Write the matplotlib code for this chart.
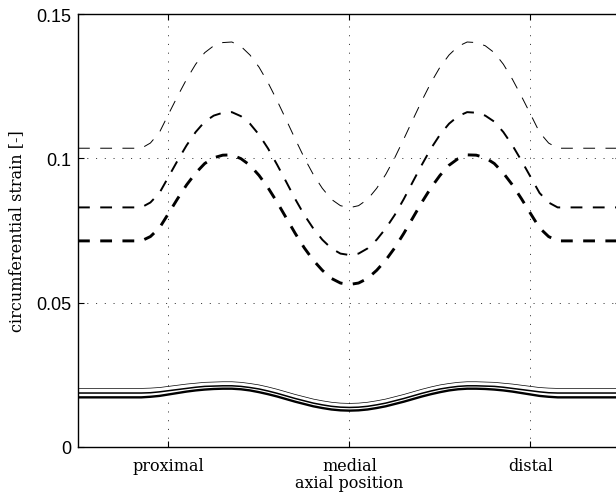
import matplotlib
matplotlib.use("Agg")
import matplotlib.pyplot as plt

plt.rcParams['lines.scale_dashes'] = False

x = [0.50, 0.85, 0.90, 0.95, 1.00, 1.05, 1.10, 1.15, 1.20, 1.25, 1.30, 1.35, 1.40, 1.45,
     1.50, 1.55, 1.60, 1.65, 1.70, 1.75, 1.80, 1.85, 1.90, 1.95, 2.00, 2.05, 2.10, 2.15,
     2.20, 2.25, 2.30, 2.35, 2.40, 2.45, 2.50, 2.55, 2.60, 2.65, 2.70, 2.75, 2.80, 2.85,
     2.90, 2.95, 3.00, 3.05, 3.10, 3.15, 3.50]

dash_thin = [0.1035, 0.1035, 0.1053, 0.1090, 0.1153, 0.1215, 0.1274, 0.1326, 0.1366, 0.1390,
             0.1401, 0.1403, 0.1388, 0.1358, 0.1316, 0.1262, 0.1200, 0.1134, 0.1067, 0.1002,
             0.0944, 0.0896, 0.0858, 0.0836, 0.0829, 0.0836, 0.0858, 0.0896, 0.0944, 0.1002,
             0.1067, 0.1134, 0.1200, 0.1262, 0.1316, 0.1358, 0.1388, 0.1403, 0.1401, 0.1390,
             0.1366, 0.1326, 0.1274, 0.1215, 0.1153, 0.1090, 0.1053, 0.1035, 0.1035]

dash_med = [0.0830, 0.0830, 0.0847, 0.0880, 0.0936, 0.0992, 0.1045, 0.1091, 0.1127, 0.1148,
            0.1158, 0.1160, 0.1146, 0.1120, 0.1082, 0.1034, 0.0978, 0.0919, 0.0859, 0.0804,
            0.0757, 0.0718, 0.0688, 0.0670, 0.0665, 0.0670, 0.0688, 0.0718, 0.0757, 0.0804,
            0.0859, 0.0919, 0.0978, 0.1034, 0.1082, 0.1120, 0.1146, 0.1160, 0.1158, 0.1148,
            0.1127, 0.1091, 0.1045, 0.0992, 0.0936, 0.0880, 0.0847, 0.0830, 0.0830]

dash_thick = [0.0714, 0.0714, 0.0729, 0.0759, 0.0809, 0.0860, 0.0908, 0.0949, 0.0982, 0.1002,
              0.1011, 0.1012, 0.0999, 0.0976, 0.0941, 0.0898, 0.0848, 0.0794, 0.0740, 0.0690,
              0.0647, 0.0612, 0.0584, 0.0568, 0.0563, 0.0568, 0.0584, 0.0612, 0.0647, 0.0690,
              0.0740, 0.0794, 0.0848, 0.0898, 0.0941, 0.0976, 0.0999, 0.1012, 0.1011, 0.1002,
              0.0982, 0.0949, 0.0908, 0.0860, 0.0809, 0.0759, 0.0729, 0.0714, 0.0714]

solid_thin = [0.0203, 0.0203, 0.0204, 0.0206, 0.0210, 0.0214, 0.0218, 0.0221, 0.0224, 0.0225,
              0.0226, 0.0226, 0.0224, 0.0220, 0.0215, 0.0208, 0.0200, 0.0191, 0.0182, 0.0174,
              0.0166, 0.0160, 0.0155, 0.0152, 0.0151, 0.0152, 0.0155, 0.0160, 0.0166, 0.0174,
              0.0182, 0.0191, 0.0200, 0.0208, 0.0215, 0.0220, 0.0224, 0.0226, 0.0226, 0.0225,
              0.0224, 0.0221, 0.0218, 0.0214, 0.0210, 0.0206, 0.0204, 0.0203, 0.0203]

solid_med = [0.0187, 0.0187, 0.0188, 0.0191, 0.0195, 0.0199, 0.0203, 0.0207, 0.0210, 0.0211,
             0.0212, 0.0212, 0.0210, 0.0206, 0.0201, 0.0194, 0.0186, 0.0177, 0.0168, 0.0160,
             0.0152, 0.0146, 0.0141, 0.0138, 0.0137, 0.0138, 0.0141, 0.0146, 0.0152, 0.0160,
             0.0168, 0.0177, 0.0186, 0.0194, 0.0201, 0.0206, 0.0210, 0.0212, 0.0212, 0.0211,
             0.0210, 0.0207, 0.0203, 0.0199, 0.0195, 0.0191, 0.0188, 0.0187, 0.0187]

solid_thick = [0.0172, 0.0172, 0.0174, 0.0177, 0.0182, 0.0187, 0.0192, 0.0196, 0.0199, 0.0201,
               0.0202, 0.0202, 0.0200, 0.0196, 0.0190, 0.0183, 0.0175, 0.0166, 0.0157, 0.0149,
               0.0141, 0.0135, 0.0130, 0.0127, 0.0126, 0.0127, 0.0130, 0.0135, 0.0141, 0.0149,
               0.0157, 0.0166, 0.0175, 0.0183, 0.0190, 0.0196, 0.0200, 0.0202, 0.0202, 0.0201,
               0.0199, 0.0196, 0.0192, 0.0187, 0.0182, 0.0177, 0.0174, 0.0172, 0.0172]

xtick_pos = [1, 2, 3]
xtick_labels = ["proximal", "medial", "distal"]
ytick_pos = [0, 0.05, 0.1, 0.15]
ytick_labels = ["0", "0.05", "0.1", "0.15"]

fig = plt.figure(figsize=(6.16, 5.02), dpi=100)
ax = fig.add_axes([78/616, 54/502, 543/616, 433/502])

ax.set_xlim(0.5, 3.5)
ax.set_ylim(0, 0.15)

# grid
for xv in xtick_pos:
    ax.axvline(xv, color='0.25', lw=0.7, dashes=(0.8, 5.5), zorder=1)
for yv in ytick_pos[1:-1]:
    ax.axhline(yv, color='0.25', lw=0.7, dashes=(0.8, 5.5), zorder=1)

dash_pat = (8.5, 7.5)
ax.plot(x, dash_thin, color='black', lw=0.7, dashes=dash_pat, zorder=3)
ax.plot(x, dash_med, color='black', lw=1.4, dashes=dash_pat, zorder=3)
ax.plot(x, dash_thick, color='black', lw=2.1, dashes=dash_pat, zorder=3)

ax.plot(x, solid_thin, color='black', lw=0.5, zorder=3)
ax.plot(x, solid_med, color='black', lw=1.1, zorder=3)
ax.plot(x, solid_thick, color='black', lw=1.7, zorder=3)

ax.set_xticks(xtick_pos)
ax.set_xticklabels(xtick_labels, family='DejaVu Serif', fontsize=11.5)
ax.set_yticks(ytick_pos)
ax.set_yticklabels(ytick_labels, family='Liberation Sans', fontsize=13)
ax.tick_params(direction='in', length=4, width=0.8, top=True, right=True, pad=5)
ax.tick_params(axis='x', pad=7)

for s in ax.spines.values():
    s.set_linewidth(1.0)

ax.set_xlabel("axial position", family='DejaVu Serif', fontsize=11.5, labelpad=0)
ax.set_ylabel("circumferential strain [-]", family='DejaVu Serif', fontsize=11.5, labelpad=8)

fig.savefig("out.png", dpi=100)
